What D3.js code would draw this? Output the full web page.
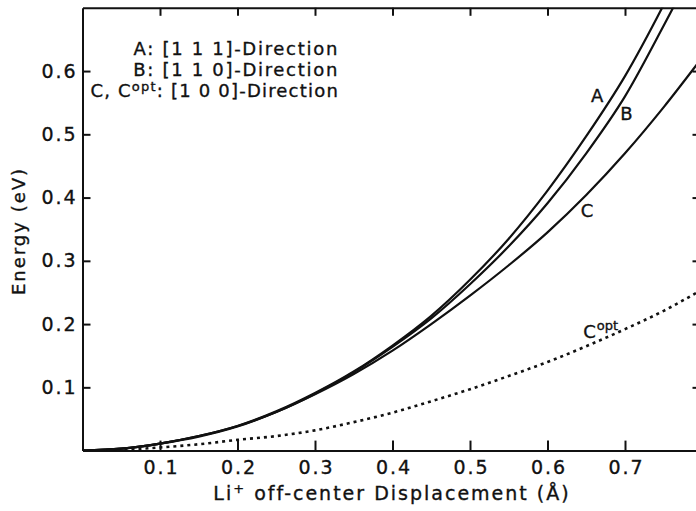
<!DOCTYPE html>
<html>
<head>
<meta charset="utf-8">
<script src="https://cdn.jsdelivr.net/npm/d3@7"></script>
<style>
  body { margin: 0; background: #fff; }
  svg { display: block; font-family: "DejaVu Sans", sans-serif; }
  .axis path, .axis line { stroke: #111; stroke-width: 2; }
  .axis text { font-size: 19px; fill: #111; stroke: #111; stroke-width: 0.35; font-family: "DejaVu Sans", sans-serif; }
  .curve { fill: none; stroke: #111; stroke-width: 2.2; }
  .curve.dotted { stroke-width: 2.6; stroke-dasharray: 3 4; }
  .lbl { font-size: 18px; fill: #111; stroke: #111; stroke-width: 0.35; }
</style>
</head>
<body>
<div id="chart"></div>
<script>
// displacement (Å)
const displacement = [0, 0.05, 0.1, 0.15, 0.2, 0.25, 0.3, 0.35, 0.4, 0.45, 0.5, 0.55, 0.6, 0.65, 0.7, 0.75, 0.8];
// energies (eV)
const curveA    = [0, 0.003, 0.011, 0.023, 0.039, 0.062, 0.091, 0.125, 0.166, 0.213, 0.270, 0.335, 0.411, 0.497, 0.592, 0.705, 0.830];
const curveB    = [0, 0.003, 0.011, 0.023, 0.039, 0.061, 0.090, 0.124, 0.164, 0.209, 0.263, 0.323, 0.391, 0.470, 0.560, 0.672, 0.790];
const curveC    = [0, 0.003, 0.011, 0.022, 0.038, 0.061, 0.089, 0.121, 0.158, 0.200, 0.245, 0.293, 0.345, 0.404, 0.470, 0.543, 0.622];
const curveCopt = [0, 0.001, 0.005, 0.010, 0.017, 0.023, 0.032, 0.045, 0.060, 0.078, 0.097, 0.118, 0.140, 0.165, 0.192, 0.221, 0.255];

const xTicks = [0.1, 0.2, 0.3, 0.4, 0.5, 0.6, 0.7];
const yTicks = [0.1, 0.2, 0.3, 0.4, 0.5, 0.6];
const legendLines = ['A: [1 1 1]-Direction', 'B: [1 1 0]-Direction'];

const width = 696, height = 511;
const margin = {top: 7.8, left: 82.5, bottom: height - 450.6};
const innerW = 620, innerH = height - margin.top - margin.bottom;

const svg = d3.select('#chart').append('svg')
    .attr('width', width).attr('height', height);
const g = svg.append('g')
    .attr('transform', `translate(${margin.left},${margin.top})`);

const x = d3.scaleLinear([0, 0.8], [0, innerW]);
const y = d3.scaleLinear([0, 0.7], [innerH, 0]);

svg.append('clipPath').attr('id', 'plotclip')
  .append('rect').attr('x', margin.left).attr('y', margin.top)
  .attr('width', innerW).attr('height', innerH);

// axes, ticks pointing inward
const fmt = d3.format('.1f');
g.append('g').attr('class', 'axis').attr('transform', `translate(0,${innerH})`)
    .call(d3.axisBottom(x).tickValues(xTicks).tickFormat(fmt).tickSizeInner(-10).tickSizeOuter(0).tickPadding(10));
g.append('g').attr('class', 'axis')
    .call(d3.axisLeft(y).tickValues(yTicks).tickFormat(fmt).tickSizeInner(-8).tickSizeOuter(0).tickPadding(7));
g.append('g').attr('class', 'axis')
    .call(d3.axisTop(x).tickValues(xTicks).tickFormat('').tickSizeInner(-8).tickSizeOuter(0));
g.append('g').attr('class', 'axis').attr('transform', `translate(${innerW},0)`)
    .call(d3.axisRight(y).tickValues(yTicks).tickFormat('').tickSizeInner(-10).tickSizeOuter(0));
g.selectAll('.axis text').attr('textLength', 34).attr('lengthAdjust', 'spacing');

// curves
const line = d3.line().x((d, i) => x(displacement[i])).y(d => y(d)).curve(d3.curveMonotoneX);
const plot = svg.append('g').attr('clip-path', 'url(#plotclip)')
    .append('g').attr('transform', `translate(${margin.left},${margin.top})`);
[curveA, curveB, curveC].forEach(s => plot.append('path').attr('class', 'curve').attr('d', line(s)));
plot.append('path').attr('class', 'curve dotted').attr('d', line(curveCopt));

// curve labels
const lbl = (name, xv, yv) => g.append('text').attr('class', 'lbl')
    .attr('x', x(xv)).attr('y', y(yv)).attr('text-anchor', 'middle').attr('dy', '0.36em').text(name);
lbl('A', 0.664, 0.562);
lbl('B', 0.702, 0.533);
lbl('C', 0.651, 0.380);
const copt = g.append('text').attr('class', 'lbl')
    .attr('x', x(0.655) - 7).attr('y', y(0.188)).attr('dy', '0.36em');
copt.append('tspan').text('C');
copt.append('tspan').attr('font-size', '13px').attr('dy', '-8').attr('dx', '1').text('opt');

// legend
legendLines.forEach((t, i) => {
  svg.append('text').attr('class', 'lbl').attr('x', 339).attr('y', 55 + i * 21)
      .attr('text-anchor', 'end').style('letter-spacing', '1.7px').text(t);
});
const leg3 = svg.append('text').attr('class', 'lbl').attr('x', 339).attr('y', 97)
    .attr('text-anchor', 'end').style('letter-spacing', '1.2px');
leg3.append('tspan').text('C, C');
leg3.append('tspan').attr('font-size', '13px').attr('dy', -6).text('opt');
leg3.append('tspan').attr('dy', 6).text(': [1 0 0]-Direction');

// axis titles
const xt = svg.append('text').attr('class', 'lbl').attr('x', 392).attr('y', 500)
    .attr('text-anchor', 'middle').style('font-size', '19px').style('letter-spacing', '2px');
xt.append('tspan').text('Li');
xt.append('tspan').attr('font-size', '13px').attr('dy', -7).text('+');
xt.append('tspan').attr('dy', 7).text(' off-center Displacement (Å)');

svg.append('text').attr('class', 'lbl')
    .attr('transform', 'translate(25,231)rotate(-90)')
    .attr('text-anchor', 'middle').style('letter-spacing', '2px').text('Energy (eV)');
</script>
</body>
</html>
